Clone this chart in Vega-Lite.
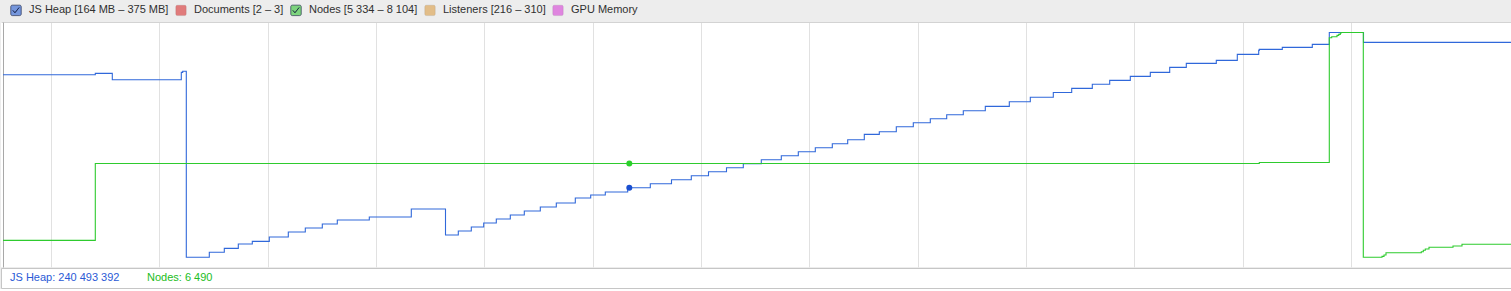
{
  "$schema": "https://vega.github.io/schema/vega-lite/v6.json",
  "background": "#ededed",
  "padding": 0,
  "spacing": 0,
  "config": {"view": {"stroke": null}, "font": "Liberation Sans"},
  "resolve": {"scale": {"color": "independent"}, "legend": {"color": "independent"}},
  "vconcat": [
    {
      "width": 1511,
      "height": 245,
      "view": {"fill": "white", "stroke": null},
      "resolve": {"scale": {"y": "independent"}},
      "layer": [
        {
          "data": {"values": [
            {"counter": "JS Heap [164 MB – 375 MB]"},
            {"counter": "Documents [2 – 3]"},
            {"counter": "Nodes [5 334 – 8 104]"},
            {"counter": "Listeners [216 – 310]"},
            {"counter": "GPU Memory"}
          ]},
          "mark": {"type": "point", "filled": true, "opacity": 0},
          "encoding": {
            "color": {
              "field": "counter", "type": "nominal",
              "scale": {
                "domain": ["JS Heap [164 MB – 375 MB]", "Documents [2 – 3]", "Nodes [5 334 – 8 104]", "Listeners [216 – 310]", "GPU Memory"],
                "range": ["#7596dc", "#e07b7b", "#7dd47d", "#e2bd88", "#df85df"]
              },
              "legend": {
                "orient": "top", "direction": "horizontal", "title": null,
                "offset": 0, "padding": 4,
                "symbolSize": 110, "symbolOffset": 5, "symbolOpacity": 1, "symbolStrokeWidth": 1,
                "symbolType": "M-0.7,-1H0.7A0.3,0.3,0,0,1,1,-0.7V0.7A0.3,0.3,0,0,1,0.7,1H-0.7A0.3,0.3,0,0,1,-1,0.7V-0.7A0.3,0.3,0,0,1,-0.7,-1Z",
                "labelFont": "Liberation Sans", "labelFontSize": 11, "labelColor": "#303030",
                "labelOffset": 7, "columnPadding": 1,
                "encode": {
                  "symbols": {
                    "update": {
                      "shape": {"signal": "(datum.index == 0 || datum.index == 2) ? 'M-0.7,-1H0.7A0.3,0.3,0,0,1,1,-0.7V0.7A0.3,0.3,0,0,1,0.7,1H-0.7A0.3,0.3,0,0,1,-1,0.7V-0.7A0.3,0.3,0,0,1,-0.7,-1ZM-0.6,0L-0.2,0.45L0.6,-0.55L-0.2,0.45Z' : 'M-0.7,-1H0.7A0.3,0.3,0,0,1,1,-0.7V0.7A0.3,0.3,0,0,1,0.7,1H-0.7A0.3,0.3,0,0,1,-1,0.7V-0.7A0.3,0.3,0,0,1,-0.7,-1Z'"},
                      "stroke": {"signal": "(datum.index == 0 || datum.index == 2) ? 'rgba(15,25,60,0.6)' : 'rgba(0,0,0,0.08)'"}
                    }
                  }
                }
              }
            }
          }
        },
        {
          "data": {"values": [
            {"t": 0, "mb": 335.4}, {"t": 92.3, "mb": 336.7}, {"t": 109.3, "mb": 330.7}, {"t": 178.3, "mb": 337.6},
            {"t": 179.7, "mb": 338.6}, {"t": 183.3, "mb": 164}, {"t": 206.3, "mb": 168.7}, {"t": 221.3, "mb": 172.4},
            {"t": 235.3, "mb": 176.5}, {"t": 249.3, "mb": 179.0}, {"t": 266.3, "mb": 183.1}, {"t": 285.3, "mb": 187.7},
            {"t": 302.3, "mb": 191.5}, {"t": 319.3, "mb": 195.3}, {"t": 334.3, "mb": 199.0}, {"t": 366.3, "mb": 201.8},
            {"t": 408.3, "mb": 209.3}, {"t": 442.5, "mb": 184.9}, {"t": 455.3, "mb": 188.7}, {"t": 468.3, "mb": 192.4},
            {"t": 480.7, "mb": 196.2}, {"t": 493.3, "mb": 199.9}, {"t": 507.3, "mb": 203.7}, {"t": 521.3, "mb": 207.5},
            {"t": 537.3, "mb": 211.2}, {"t": 553.3, "mb": 215.0}, {"t": 572.3, "mb": 219.7}, {"t": 587.7, "mb": 222.5},
            {"t": 602.3, "mb": 225.3}, {"t": 624.7, "mb": 229.35}, {"t": 647.3, "mb": 233.1}, {"t": 668.5, "mb": 236.8},
            {"t": 688.3, "mb": 240.6}, {"t": 705.5, "mb": 244.3}, {"t": 723.5, "mb": 248.1}, {"t": 740.3, "mb": 251.9},
            {"t": 758.3, "mb": 255.6}, {"t": 778.3, "mb": 259.4}, {"t": 795.3, "mb": 263.1}, {"t": 812.3, "mb": 266.9},
            {"t": 829.3, "mb": 270.6}, {"t": 844.7, "mb": 274.4}, {"t": 861.3, "mb": 279.4}, {"t": 876.3, "mb": 281.9},
            {"t": 893.3, "mb": 286.6}, {"t": 910.3, "mb": 290.3}, {"t": 927.3, "mb": 294.1}, {"t": 943.7, "mb": 297.8},
            {"t": 960.3, "mb": 301.6}, {"t": 982.3, "mb": 305.7}, {"t": 1006.3, "mb": 310.0}, {"t": 1027.3, "mb": 314.2},
            {"t": 1050.3, "mb": 318.7}, {"t": 1068.7, "mb": 322.6}, {"t": 1089.3, "mb": 326.4}, {"t": 1106.7, "mb": 330.1},
            {"t": 1127.3, "mb": 333.9}, {"t": 1147.3, "mb": 337.6}, {"t": 1166.7, "mb": 342.3}, {"t": 1183.3, "mb": 346.1},
            {"t": 1213.3, "mb": 348.9}, {"t": 1234.3, "mb": 354.5}, {"t": 1255.7, "mb": 358.3}, {"t": 1256.3, "mb": 359.2},
            {"t": 1279.3, "mb": 361.1}, {"t": 1309.3, "mb": 363.9}, {"t": 1326.3, "mb": 375}, {"t": 1360.5, "mb": 365.8},
            {"t": 1509, "mb": 365.8}
          ]},
          "mark": {"type": "line", "interpolate": "step-after", "color": "#3068da", "strokeWidth": 1.1},
          "encoding": {
            "x": {
              "field": "t", "type": "quantitative",
              "scale": {"domain": [-2, 1509], "nice": false, "zero": false},
              "axis": {
                "orient": "top", "values": [48, 156.33, 264.67, 373, 481.33, 589.67, 698, 806.33, 914.67, 1023, 1131.33, 1239.67, 1348],
                "grid": true, "gridColor": "#e1e1e1", "gridWidth": 1,
                "labels": false, "ticks": false, "domain": true, "domainColor": "#d3d3d3", "title": null
              }
            },
            "y": {
              "field": "mb", "type": "quantitative",
              "scale": {"domain": [154.9, 384.9], "nice": false, "zero": false},
              "axis": {"orient": "left", "offset": -2, "domain": true, "domainColor": "#a8a8a8", "labels": false, "ticks": false, "grid": false, "title": null}
            }
          }
        },
        {
          "data": {"values": [
            {"t": 0, "n": 5543}, {"t": 92.3, "n": 6490}, {"t": 1256.3, "n": 6502}, {"t": 1326.3, "n": 8040},
            {"t": 1328.7, "n": 8052}, {"t": 1334, "n": 8069}, {"t": 1335.7, "n": 8081}, {"t": 1337.3, "n": 8094},
            {"t": 1338, "n": 8104}, {"t": 1360.3, "n": 5334}, {"t": 1379, "n": 5346}, {"t": 1381, "n": 5362},
            {"t": 1383, "n": 5391}, {"t": 1418.3, "n": 5403}, {"t": 1420.3, "n": 5420}, {"t": 1422.3, "n": 5436},
            {"t": 1426, "n": 5457}, {"t": 1450, "n": 5473}, {"t": 1459, "n": 5494}, {"t": 1509, "n": 5494}
          ]},
          "mark": {"type": "line", "interpolate": "step-after", "color": "#2ecb2e", "strokeWidth": 1.1},
          "encoding": {
            "x": {"field": "t", "type": "quantitative", "scale": {"domain": [-2, 1509], "nice": false, "zero": false}},
            "y": {"field": "n", "type": "quantitative", "scale": {"domain": [5214.5, 8233.4], "nice": false, "zero": false}, "axis": null}
          }
        },
        {
          "data": {"values": [{"t": 626.3, "mb": 229.35}]},
          "mark": {"type": "point", "filled": true, "opacity": 1, "color": "#1a4fd0", "size": 36},
          "encoding": {
            "x": {"field": "t", "type": "quantitative", "scale": {"domain": [-2, 1509], "nice": false, "zero": false}},
            "y": {"field": "mb", "type": "quantitative", "scale": {"domain": [154.9, 384.9], "nice": false, "zero": false}, "axis": null}
          }
        },
        {
          "data": {"values": [{"t": 626.3, "n": 6490}]},
          "mark": {"type": "point", "filled": true, "opacity": 1, "color": "#2ad02a", "size": 36},
          "encoding": {
            "x": {"field": "t", "type": "quantitative", "scale": {"domain": [-2, 1509], "nice": false, "zero": false}},
            "y": {"field": "n", "type": "quantitative", "scale": {"domain": [5214.5, 8233.4], "nice": false, "zero": false}, "axis": null}
          }
        }
      ]
    },
    {
      "width": 1511,
      "height": 20,
      "view": {"fill": "white", "stroke": "#c6c6c6"},
      "data": {"values": [
        {"readout": "JS Heap: 240 493 392"},
        {"readout": "Nodes: 6 490"}
      ]},
      "mark": {"type": "point", "filled": true, "opacity": 0},
      "encoding": {
        "color": {
          "field": "readout", "type": "nominal",
          "scale": {"domain": ["JS Heap: 240 493 392", "Nodes: 6 490"], "range": ["#2a5ad6", "#22bd22"]},
          "legend": {
            "orient": "top-left", "direction": "horizontal", "title": null,
            "offset": 0, "padding": 4,
            "symbolSize": 1, "symbolOpacity": 0, "symbolOffset": 1, "symbolStrokeWidth": 0,
            "labelFont": "Liberation Sans", "labelFontSize": 11, "labelOffset": -7, "columnPadding": 22,
            "encode": {
              "labels": {
                "update": {
                  "fill": {"signal": "datum.index == 1 ? '#22bd22' : '#2a5ad6'"}
                }
              }
            }
          }
        }
      }
    }
  ]
}
